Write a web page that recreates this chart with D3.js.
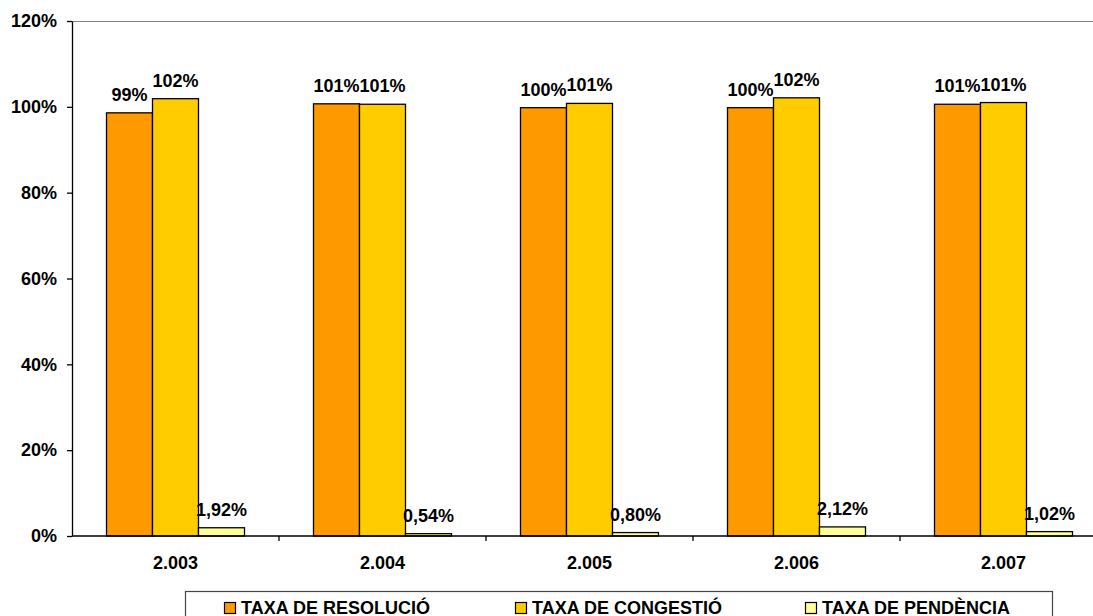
<!DOCTYPE html>
<html>
<head>
<meta charset="utf-8">
<script src="https://cdn.jsdelivr.net/npm/d3@7"></script>
<style>
html,body{margin:0;padding:0;background:#fff;overflow:hidden;}
svg{display:block;font-family:"Liberation Sans",Arial,sans-serif;font-weight:bold;}
</style>
</head>
<body>
<svg id="chart" width="1093" height="616"></svg>
<script>
const categories = ["2.003", "2.004", "2.005", "2.006", "2.007"];
const seriesNames = ["TAXA DE RESOLUCIÓ", "TAXA DE CONGESTIÓ", "TAXA DE PENDÈNCIA"];
const resolucio = [0.986, 1.007, 0.998, 0.998, 1.006];
const congestio = [1.019, 1.006, 1.008, 1.021, 1.010];
const pendencia = [0.0192, 0.0054, 0.0080, 0.0212, 0.0102];
const yTicks = [0, 0.2, 0.4, 0.6, 0.8, 1.0, 1.2];
const colors = ["#FF9900", "#FFCC00", "#FFFF99"];

(function () {
const svg = d3.select("#chart");
const plotLeft = 72, plotTop = 21, plotBottom = 536, catW = 207;
const plotRight = plotLeft + categories.length * catW;

const locale = d3.formatLocale({decimal: ",", thousands: ".", grouping: [3], currency: ["", "€"]});
const fmtInt = locale.format(".0%");
const fmtDec = locale.format(".2%");
const formats = [fmtInt, fmtInt, fmtDec];
const seriesData = [resolucio, congestio, pendencia];

const x0 = d3.scaleBand().domain(categories).range([plotLeft, plotRight]).padding(0);
const x1 = d3.scaleBand().domain(d3.range(seriesNames.length)).range([0, x0.bandwidth()]).paddingInner(0).paddingOuter(0.75);
const y = d3.scaleLinear().domain([0, 1.2]).range([plotBottom, plotTop]);

// top border of plot area
svg.append("line").attr("x1", plotLeft).attr("x2", 1093).attr("y1", y(1.2) + 0.5).attr("y2", y(1.2) + 0.5)
  .attr("stroke", "#808080").attr("stroke-width", 1.2);

// bars
const groups = svg.selectAll("g.cat").data(categories).join("g").attr("class", "cat")
  .attr("transform", d => `translate(${x0(d)},0)`);
seriesData.forEach((vals, s) => {
  groups.append("rect")
    .attr("x", x1(s))
    .attr("width", x1.bandwidth())
    .attr("y", (d, i) => y(vals[i]))
    .attr("height", (d, i) => y(0) - y(vals[i]))
    .attr("fill", colors[s])
    .attr("stroke", "#000").attr("stroke-width", 1.3);
  groups.append("text")
    .attr("x", x1(s) + x1.bandwidth() / 2)
    .attr("y", (d, i) => y(vals[i]) - 12)
    .attr("text-anchor", "middle")
    .attr("font-size", 18)
    .attr("fill", "#000")
    .text((d, i) => formats[s](vals[i]));
});

// y axis
const yAxis = d3.axisLeft(y).tickValues(yTicks).tickFormat(fmtInt).tickSizeInner(5).tickSizeOuter(0).tickPadding(10);
const ga = svg.append("g").attr("transform", `translate(${plotLeft},0)`).call(yAxis);
ga.select(".domain").attr("stroke", "#000").attr("stroke-width", 1.3);
ga.selectAll(".tick line").attr("stroke", "#000").attr("stroke-width", 1.3);
ga.selectAll(".tick text").attr("font-size", 18).attr("font-family", "Liberation Sans, Arial, sans-serif")
  .attr("font-weight", "bold").attr("fill", "#000");

// x axis
const xb = d3.scaleLinear().domain([0, categories.length]).range([plotLeft, plotRight]);
svg.append("line").attr("x1", plotLeft).attr("x2", 1093).attr("y1", plotBottom).attr("y2", plotBottom)
  .attr("stroke", "#000").attr("stroke-width", 1.3);
svg.selectAll("line.xtick").data(d3.range(1, categories.length)).join("line").attr("class", "xtick")
  .attr("x1", d => xb(d)).attr("x2", d => xb(d)).attr("y1", plotBottom).attr("y2", plotBottom + 5)
  .attr("stroke", "#000").attr("stroke-width", 1.3);
svg.selectAll("text.xlab").data(categories).join("text").attr("class", "xlab")
  .attr("x", d => x0(d) + x0.bandwidth() / 2).attr("y", 569)
  .attr("text-anchor", "middle").attr("font-size", 18).attr("fill", "#000").text(d => d);

// legend
svg.append("rect").attr("x", 185.5).attr("y", 591.5).attr("width", 867).attr("height", 40)
  .attr("fill", "#fff").attr("stroke", "#444").attr("stroke-width", 1.2);
const legX = [224, 515, 805];
const leg = svg.selectAll("g.leg").data(seriesNames).join("g").attr("class", "leg")
  .attr("transform", (d, i) => `translate(${legX[i]},0)`);
leg.append("rect").attr("x", 0.5).attr("y", 602.5).attr("width", 11).attr("height", 11)
  .attr("fill", (d, i) => colors[i]).attr("stroke", "#000").attr("stroke-width", 1.2);
leg.append("text").attr("x", 17).attr("y", 613.5).attr("font-size", 18).attr("fill", "#000").text(d => d);
})();
</script>
</body>
</html>
